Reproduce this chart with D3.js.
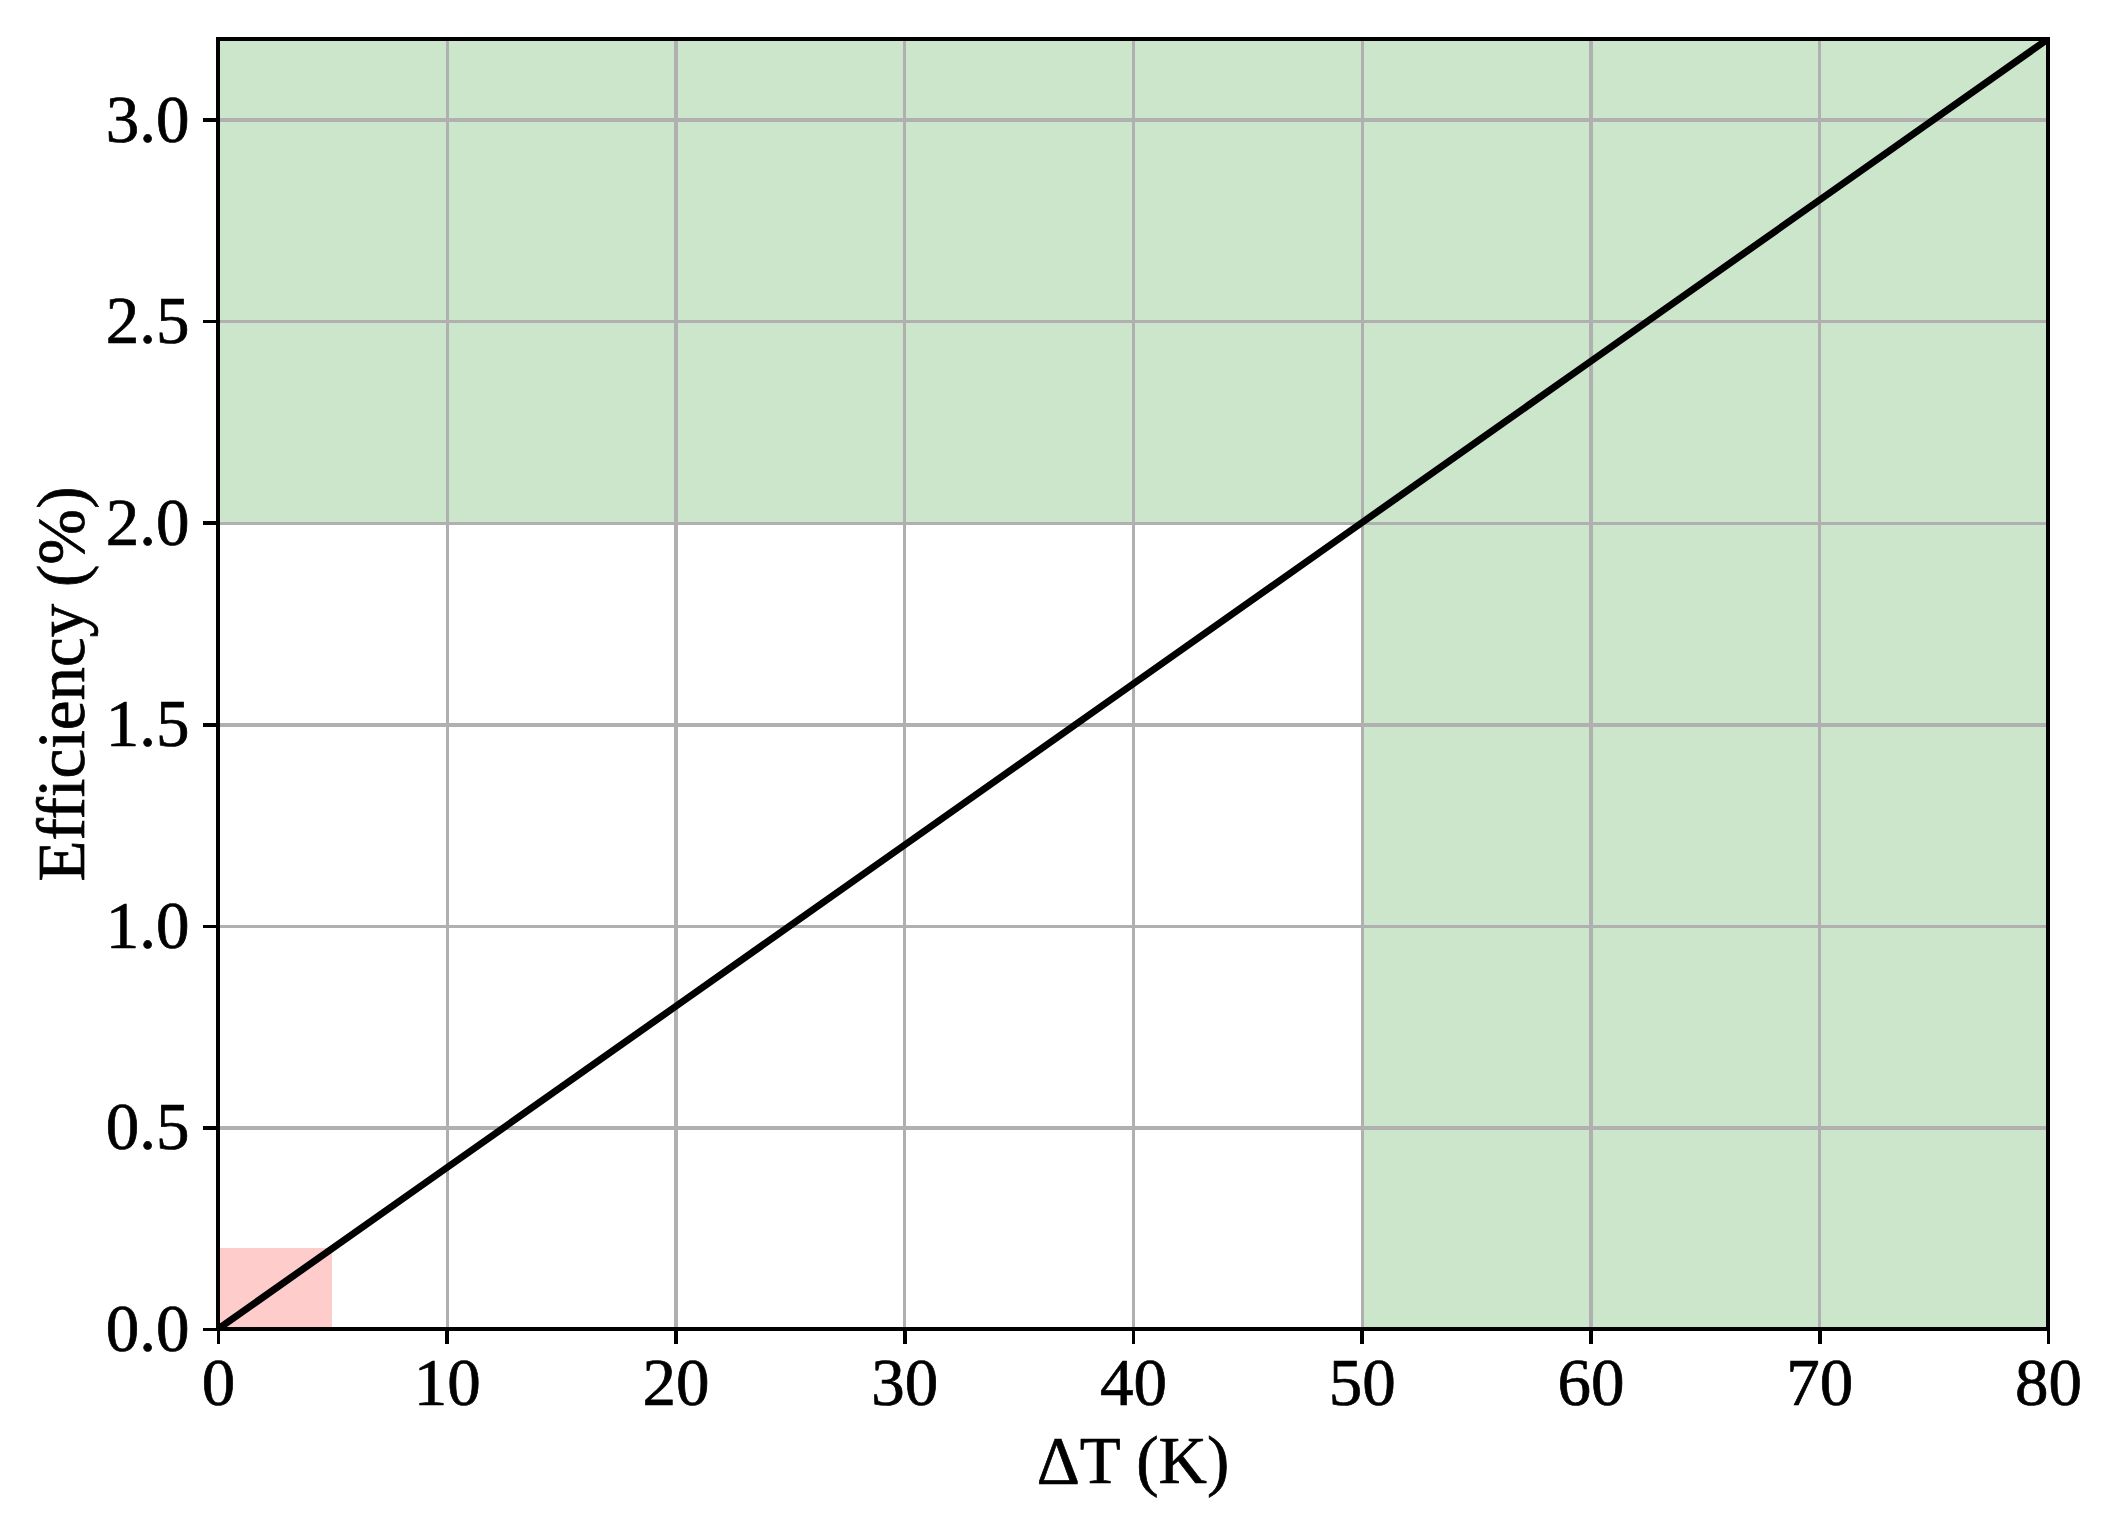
<!DOCTYPE html>
<html>
<head>
<meta charset="utf-8">
<script src="https://cdn.jsdelivr.net/npm/d3@7"></script>
<style>
  body { margin: 0; background: #fff; }
  text { font-family: "Liberation Serif", "Times New Roman", serif; fill: #000; stroke: #000; stroke-width: 0.7px; }
</style>
</head>
<body>
<div class="chart"></div>
<script>
// values
var deltaT = [0, 10, 20, 30, 40, 50, 60, 70, 80];
var efficiency = [0, 0.4, 0.8, 1.2, 1.6, 2.0, 2.4, 2.8, 3.2];

// shaded regions: [x0, x1, y0, y1] in data units
var goodZones = [[0, 80, 2.0, 3.2], [50, 80, 0, 3.2]];
var badZones = [[0, 5, 0, 0.2]];

var xTicks = [0, 10, 20, 30, 40, 50, 60, 70, 80];
var yTicks = [0, 0.5, 1.0, 1.5, 2.0, 2.5, 3.0];

var svgWidth = 2105;
var svgHeight = 1522;

var margin = {
  top: 39,
  right: 57,
  bottom: 193,
  left: 218
};

var width = svgWidth - margin.left - margin.right;
var height = svgHeight - margin.top - margin.bottom;

var svg = d3.select(".chart")
  .append("svg")
  .attr("width", svgWidth)
  .attr("height", svgHeight);

var chartGroup = svg.append("g")
  .attr("transform", `translate(${margin.left}, ${margin.top})`);

var xScale = d3.scaleLinear().domain([0, 80]).range([0, width]);
var yScale = d3.scaleLinear().domain([0, 3.2]).range([height, 0]);

chartGroup.append("clipPath")
  .attr("id", "plotclip")
  .append("rect")
  .attr("width", width)
  .attr("height", height);

// fills first, they sit under the grid
function drawZones(zones, color) {
  chartGroup.selectAll(null)
    .data(zones)
    .enter()
    .append("rect")
    .attr("x", d => xScale(d[0]))
    .attr("width", d => xScale(d[1]) - xScale(d[0]))
    .attr("y", d => yScale(d[3]))
    .attr("height", d => yScale(d[2]) - yScale(d[3]))
    .attr("fill", color)
    .attr("shape-rendering", "crispEdges");
}
drawZones(goodZones, "#cce6cc");
drawZones(badZones, "#ffcccc");

// grid
chartGroup.append("g")
  .call(d3.axisBottom(xScale).tickValues(xTicks).tickSize(-height).tickFormat(""))
  .attr("transform", `translate(0, ${height})`)
  .call(g => g.select(".domain").remove())
  .selectAll("line")
  .attr("stroke", "#b0b0b0")
  .attr("stroke-width", 3.4)
  .attr("shape-rendering", "crispEdges");

chartGroup.append("g")
  .call(d3.axisLeft(yScale).tickValues(yTicks).tickSize(-width).tickFormat(""))
  .call(g => g.select(".domain").remove())
  .selectAll("line")
  .attr("stroke", "#b0b0b0")
  .attr("stroke-width", 3.4)
  .attr("shape-rendering", "crispEdges");

// the line itself
var line = d3.line()
  .x((d, i) => xScale(deltaT[i]))
  .y(d => yScale(d));

chartGroup.append("path")
  .datum(efficiency)
  .attr("d", line)
  .attr("fill", "none")
  .attr("stroke", "#000")
  .attr("stroke-width", 7)
  .attr("clip-path", "url(#plotclip)");

// axes with outward ticks
var bottomAxis = d3.axisBottom(xScale)
  .tickValues(xTicks)
  .tickSize(14.6)
  .tickPadding(14)
  .tickFormat(d3.format("d"));

var leftAxis = d3.axisLeft(yScale)
  .tickValues(yTicks)
  .tickSize(14.6)
  .tickPadding(14)
  .tickFormat(d3.format(".1f"));

var xAxis = chartGroup.append("g")
  .attr("transform", `translate(0, ${height})`)
  .call(bottomAxis);

var yAxis = chartGroup.append("g")
  .call(leftAxis);

[xAxis, yAxis].forEach(function(ax) {
  ax.select(".domain").remove();
  ax.selectAll("line")
    .attr("stroke", "#000")
    .attr("stroke-width", 3.6)
    .attr("shape-rendering", "crispEdges");
  ax.selectAll("text")
    .style("font-family", "'Liberation Serif', 'Times New Roman', serif")
    .style("font-size", "67px")
    .attr("fill", "#000");
});

// frame on top
chartGroup.append("rect")
  .attr("width", width)
  .attr("height", height)
  .attr("fill", "none")
  .attr("stroke", "#000")
  .attr("stroke-width", 4.2)
  .attr("shape-rendering", "crispEdges");

// labels
chartGroup.append("text")
  .attr("x", width / 2)
  .attr("y", height + 154)
  .attr("text-anchor", "middle")
  .style("font-size", "67px")
  .text("ΔT (K)");

chartGroup.append("text")
  .attr("transform", "rotate(-90)")
  .attr("x", -height / 2)
  .attr("y", 84 - margin.left)
  .attr("text-anchor", "middle")
  .style("font-size", "67px")
  .text("Efficiency (%)");
</script>
</body>
</html>
